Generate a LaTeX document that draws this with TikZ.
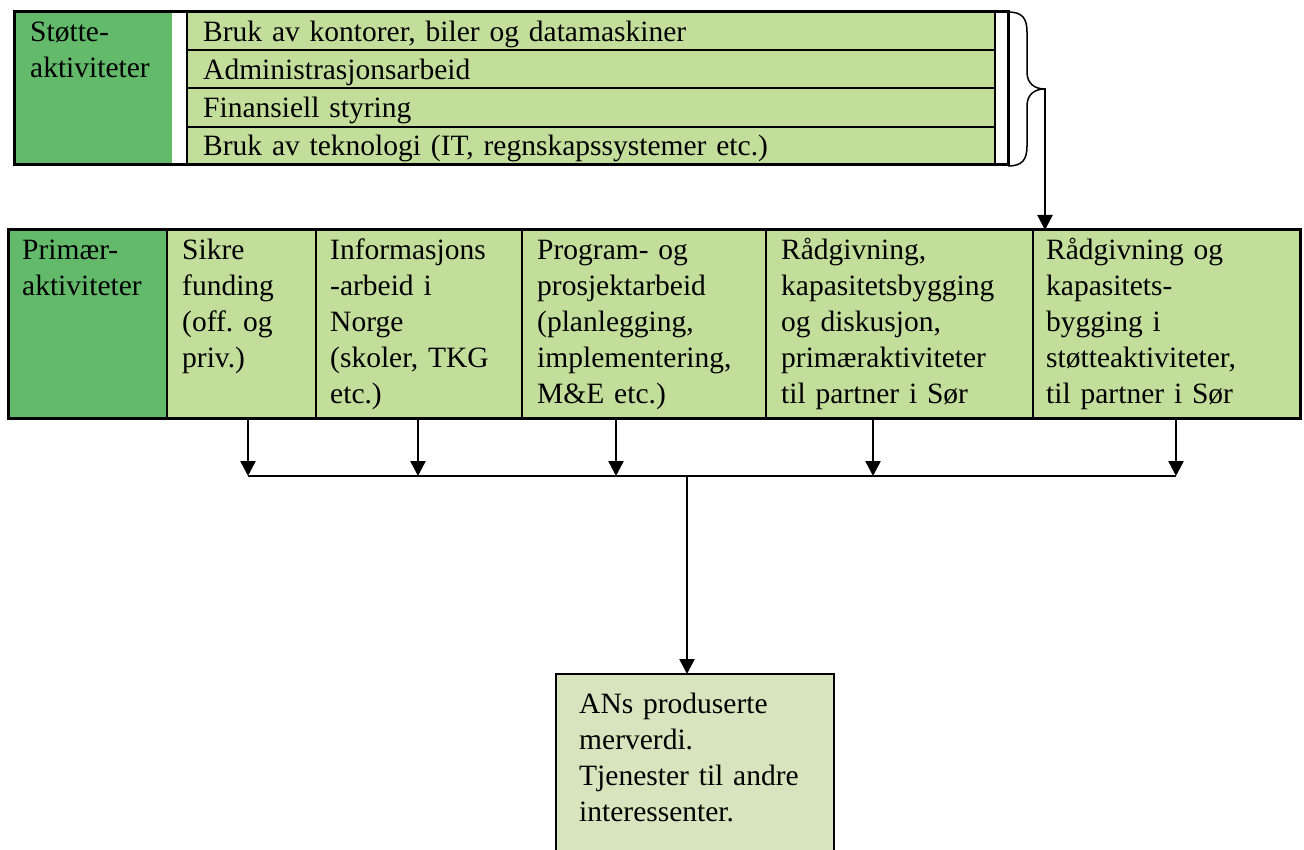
\documentclass[tikz,border=0pt]{standalone}
\usepackage{fontspec}
\setmainfont{Liberation Serif}
\usetikzlibrary{positioning, arrows.meta, decorations.pathreplacing}
\definecolor{darkleaf}{RGB}{99,186,107}
\definecolor{lightleaf}{RGB}{195,222,155}
\definecolor{paleleaf}{RGB}{216,228,189}
\frenchspacing

\begin{document}
\begin{tikzpicture}
    [x=1pt, y=-1pt,
     font=\fontsize{29.5}{36}\selectfont,
     cell/.style={rectangle, draw, line width=2pt, anchor=north west,
       inner sep=0pt, outer sep=0pt},
     frame/.style={rectangle, draw, line width=3pt, anchor=north west,
       inner sep=0pt, outer sep=0pt},
     txt/.style={anchor=base west, inner sep=0pt, align=left, text width=#1},
     txt/.default=300pt,
     arr/.style={-{Triangle[length=15pt,width=15pt]}, line width=2.5pt}]
    \useasboundingbox (0,0) rectangle (1304,850);

    % support activities
    \node (sup) at (14,12) [cell, draw=none, fill=darkleaf,
      minimum width=158pt, minimum height=153pt] {};
    \node (r1) at (187,12) [cell, fill=lightleaf,
      minimum width=808pt, minimum height=38.25pt] {};
    \node (r2) at (187,50.25) [cell, fill=lightleaf,
      minimum width=808pt, minimum height=38.25pt] {};
    \node (r3) at (187,88.5) [cell, fill=lightleaf,
      minimum width=808pt, minimum height=38.25pt] {};
    \node (r4) at (187,126.75) [cell, fill=lightleaf,
      minimum width=808pt, minimum height=38.25pt] {};
    \node (supbox) at (14,12) [frame, minimum width=994pt, minimum height=153pt] {};

    \node (supt) at (30,42) [txt] {Støtte-\\aktiviteter};
    \node (r1t) at (203,42) [txt=780pt] {Bruk av kontorer, biler og datamaskiner};
    \node (r2t) at (203,80) [txt=780pt] {Administrasjonsarbeid};
    \node (r3t) at (203,118) [txt=780pt] {Finansiell styring};
    \node (r4t) at (203,156) [txt=780pt] {Bruk av teknologi (IT, regnskapssystemer etc.)};

    % primary activities
    \node (pri) at (8,230) [cell, fill=darkleaf,
      minimum width=159pt, minimum height=188pt] {};
    \node (p1) at (167,230) [cell, fill=lightleaf,
      minimum width=149pt, minimum height=188pt] {};
    \node (p2) at (316,230) [cell, fill=lightleaf,
      minimum width=206pt, minimum height=188pt] {};
    \node (p3) at (522,230) [cell, fill=lightleaf,
      minimum width=244pt, minimum height=188pt] {};
    \node (p4) at (766,230) [cell, fill=lightleaf,
      minimum width=267pt, minimum height=188pt] {};
    \node (p5) at (1033,230) [cell, fill=lightleaf,
      minimum width=267pt, minimum height=188pt] {};
    \node (pribox) at (8,230) [frame, minimum width=1292pt, minimum height=188pt] {};

    \node (prit) at (22,260) [txt] {Primær-\\aktiviteter};
    \node (p1t) at (182,260) [txt] {Sikre\\funding\\(off. og\\priv.)};
    \node (p2t) at (330,260) [txt] {Informasjons\\-arbeid i\\Norge\\(skoler, TKG\\etc.)};
    \node (p3t) at (537,260) [txt] {Program- og\\prosjektarbeid\\(planlegging,\\implementering,\\M\&E etc.)};
    \node (p4t) at (781,260) [txt] {Rådgivning,\\kapasitetsbygging\\og diskusjon,\\primæraktiviteter\\til partner i Sør};
    \node (p5t) at (1046,260) [txt] {Rådgivning og\\kapasitets-\\bygging i\\støtteaktiviteter,\\til partner i Sør};

    % result
    \node (res) at (556,674) [cell, line width=1.5pt, fill=paleleaf,
      minimum width=278pt, minimum height=190pt] {};
    \node (rest) at (579,713) [txt] {ANs produserte\\merverdi.\\Tjenester til andre\\interessenter.};

    % brace and arrows
    \draw[line width=1.5pt] (supbox.north east)
      .. controls +(14,0) and +(0,-14) .. ++(19,20) -- ++(0,40)
      .. controls +(0,12) and +(-10,0) .. ++(18,17)
      .. controls +(-10,0) and +(0,-12) .. ++(-18,17) -- ++(0,40)
      .. controls +(0,14) and +(14,0) .. ++(-19,20);
    \coordinate (brtip) at ([xshift=37pt]supbox.east);
    \draw[arr] (brtip) -- (brtip |- pribox.north);

    \coordinate (bus1) at (248,476);
    \coordinate (bus2) at (418,476);
    \coordinate (bus3) at (616,476);
    \coordinate (bus4) at (873,476);
    \coordinate (bus5) at (1176,476);
    \coordinate (busmid) at (687,476);

    \draw[arr] (bus1 |- p1.south) -- (bus1);
    \draw[arr] (bus2 |- p2.south) -- (bus2);
    \draw[arr] (bus3 |- p3.south) -- (bus3);
    \draw[arr] (bus4 |- p4.south) -- (bus4);
    \draw[arr] (bus5 |- p5.south) -- (bus5);
    \draw[line width=1.8pt] (bus1) -- (bus5);
    \draw[arr] (busmid) -- (busmid |- res.north);
\end{tikzpicture}
\end{document}
